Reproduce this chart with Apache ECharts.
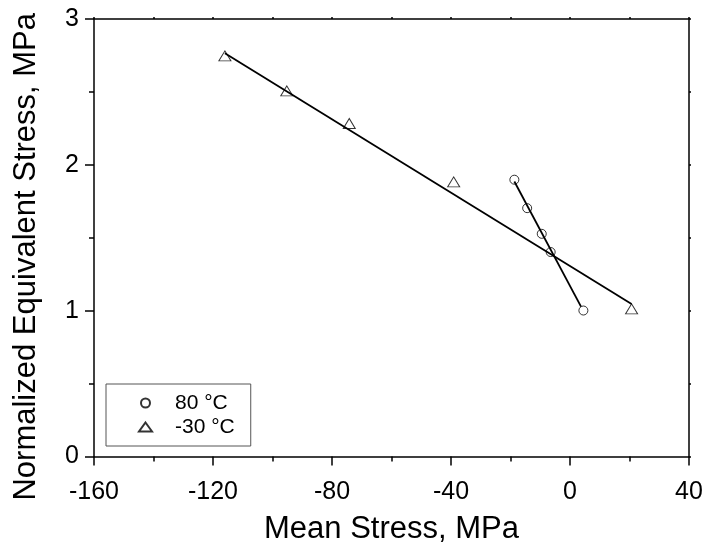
<!DOCTYPE html>
<html>
<head>
<meta charset="utf-8">
<script src="https://cdn.jsdelivr.net/npm/echarts@6/dist/echarts.min.js"></script>
<style>
  html, body { margin: 0; padding: 0; background: #fff; }
  #chart { width: 707px; height: 552px; }
</style>
</head>
<body>
<div id="chart"></div>
<script>
// Measured points: mean stress (MPa) vs normalized equivalent stress (MPa)
const hotName = '80 °C';
const hotX = [-18.7, -14.4, -9.5, -6.5, 4.5];
const hotY = [1.898, 1.703, 1.527, 1.402, 1.001];

const coldName = '-30 °C';
const coldX = [-116, -95.2, -74.2, -39.1, 20.7];
const coldY = [2.747, 2.507, 2.283, 1.883, 1.012];

// Straight-line fits, given by their end points
const hotFitX = [-18.7, 3.7];
const hotFitY = [1.886, 1.028];
const coldFitX = [-116, 20.7];
const coldFitY = [2.765, 1.045];

// Axis ranges and ticks
const xMin = -160, xMax = 40, xStep = 40;
const yMin = 0, yMax = 3, yStep = 1;

const xTitle = 'Mean Stress, MPa';
const yTitle = 'Normalized Equivalent Stress, MPa';

const pairs = (xs, ys) => xs.map((x, i) => [x, ys[i]]);

const FONT = '"Liberation Sans", Arial, sans-serif';
const INK = '#000';

const chart = echarts.init(document.getElementById('chart'), null, { renderer: 'canvas' });

const mainAxisCommon = {
  axisLine: { show: true, onZero: false, lineStyle: { color: INK, width: 1.5 } },
  axisTick: { show: true, inside: false, length: 9, lineStyle: { color: INK, width: 1.5 } },
  minorTick: { show: true, splitNumber: 2, length: 5, lineStyle: { color: INK, width: 1.5 } },
  splitLine: { show: false },
  minorSplitLine: { show: false },
  axisLabel: { color: INK, fontFamily: FONT, fontSize: 25 },
  nameTextStyle: { color: INK, fontFamily: FONT, fontSize: 31 }
};

const mirrorAxisCommon = {
  axisLine: { show: true, onZero: false, lineStyle: { color: INK, width: 1.5 } },
  axisTick: { show: true, inside: false, length: 2, lineStyle: { color: INK, width: 1.5 } },
  minorTick: { show: true, splitNumber: 2, length: 2, lineStyle: { color: INK, width: 1.5 } },
  splitLine: { show: false },
  axisLabel: { show: false }
};

const markerStyle = { color: 'rgba(255,255,255,0)', borderColor: INK, borderWidth: 1 };
const fitStyle = { color: INK, width: 1.8 };

chart.setOption({
  backgroundColor: '#fff',
  animation: false,
  grid: { left: 94, right: 18, top: 19, bottom: 95.5, containLabel: false },
  xAxis: [
    Object.assign({}, mainAxisCommon, {
      type: 'value', position: 'bottom', min: xMin, max: xMax, interval: xStep,
      name: xTitle, nameLocation: 'middle', nameGap: 57,
      axisLabel: Object.assign({}, mainAxisCommon.axisLabel, { margin: 23 })
    }),
    Object.assign({}, mirrorAxisCommon, {
      type: 'value', position: 'top', min: xMin, max: xMax, interval: xStep
    })
  ],
  yAxis: [
    Object.assign({}, mainAxisCommon, {
      type: 'value', position: 'left', min: yMin, max: yMax, interval: yStep,
      name: yTitle, nameLocation: 'middle', nameGap: 52, nameRotate: 90,
      nameTextStyle: Object.assign({}, mainAxisCommon.nameTextStyle, { padding: [0, 38, 0, 0] }),
      axisLabel: Object.assign({}, mainAxisCommon.axisLabel, { margin: 15 })
    }),
    Object.assign({}, mirrorAxisCommon, {
      type: 'value', position: 'right', min: yMin, max: yMax, interval: yStep
    })
  ],
  legend: {
    data: [hotName, coldName],
    orient: 'vertical',
    left: 106,
    top: 384,
    padding: [8.5, 16, 8.5, 32],
    itemGap: 3,
    itemWidth: 13,
    itemHeight: 9,
    borderColor: '#555',
    borderWidth: 1,
    backgroundColor: '#fff',
    selectedMode: false,
    textStyle: { color: INK, fontFamily: FONT, fontSize: 21, lineHeight: 12, padding: [0, 0, 0, 18] }
  },
  series: [
    {
      name: 'fit-80', type: 'line', data: pairs(hotFitX, hotFitY),
      showSymbol: false, symbol: 'none', lineStyle: fitStyle, silent: true, z: 2
    },
    {
      name: 'fit-m30', type: 'line', data: pairs(coldFitX, coldFitY),
      showSymbol: false, symbol: 'none', lineStyle: fitStyle, silent: true, z: 2
    },
    {
      name: hotName, type: 'scatter', data: pairs(hotX, hotY),
      symbol: 'circle', symbolSize: 9, itemStyle: markerStyle, z: 3
    },
    {
      name: coldName, type: 'scatter', data: pairs(coldX, coldY),
      symbol: 'triangle', symbolSize: [12, 10], itemStyle: markerStyle, z: 3
    }
  ]
});
</script>
</body>
</html>
